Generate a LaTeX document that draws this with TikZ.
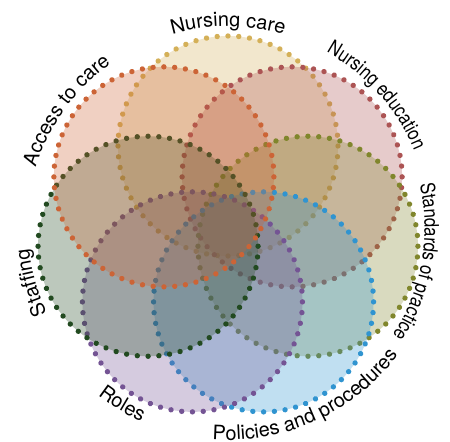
\documentclass[tikz,border=0pt]{standalone}
\usepackage{fontspec}
\setsansfont{TeX Gyre Heros}
\newfontfamily\narrowface[FakeStretch=0.84]{TeX Gyre Heros}
\usetikzlibrary{decorations.text, decorations.markings}
\definecolor{carecol}{RGB}{212,176,88}
\definecolor{educol}{RGB}{172,84,84}
\definecolor{stdcol}{RGB}{128,134,44}
\definecolor{polcol}{RGB}{48,148,208}
\definecolor{rolecol}{RGB}{116,84,148}
\definecolor{stafcol}{RGB}{34,74,32}
\definecolor{accol}{RGB}{204,100,54}
\newcommand{\lblfont}{\sffamily\fontsize{17}{20}\selectfont}
\newcommand{\narrowlbl}{\narrowface\fontsize{17}{20}\selectfont}
\tikzset{
    petal/.style={fill=#1, fill opacity=.3, postaction={decorate,
    	decoration={markings, mark=between positions 0 and 0.99 step 9.217pt
    	with {\fill[#1, fill opacity=1] (0,0) circle (2.3pt);}}}},
    arclabel/.style={decorate, decoration={text along path,
    	text align=center, text={|\lblfont|#1}}},
    narrowlabel/.style={decorate, decoration={text along path,
    	text align=center, text={|\narrowlbl|#1}}}
}

\begin{document}
\begin{tikzpicture}
	\useasboundingbox (-6.84,-6.42) rectangle (6.66,6.84);

	\path[petal=carecol] (90:2.46) circle (3.3);
	\path[petal=educol] (38.57:2.46) circle (3.3);
	\path[petal=stdcol] (-12.86:2.46) circle (3.3);
	\path[petal=polcol] (-64.29:2.46) circle (3.3);
	\path[petal=rolecol] (-115.71:2.46) circle (3.3);
	\path[petal=stafcol] (-167.14:2.46) circle (3.3);
	\path[petal=accol] (141.43:2.46) circle (3.3);

	% labels, clockwise on top, counter-clockwise at the bottom
	\path[arclabel=Nursing care] (140:6.05) arc[start angle=140, end angle=40, radius=6.05];
	\path[narrowlabel=Nursing education] (101.7:6.05) arc[start angle=101.7, end angle=-18.3, radius=6.05];
	\path[narrowlabel=Standards of practice] (49.8:5.9) arc[start angle=49.8, end angle=-70.2, radius=5.9];
	\path[arclabel=Policies and procedures] (-125.5:6.36) arc[start angle=-125.5, end angle=-5.5, radius=6.36];
	\path[arclabel=Roles] (-171:6.36) arc[start angle=-171, end angle=-71, radius=6.36];
	\path[arclabel=Staffing] (-114.5:6.0) arc[start angle=-114.5, end angle=-214.5, radius=6.0];
	\path[arclabel=Access to care] (204:6.05) arc[start angle=204, end angle=84, radius=6.05];
\end{tikzpicture}
\end{document}
